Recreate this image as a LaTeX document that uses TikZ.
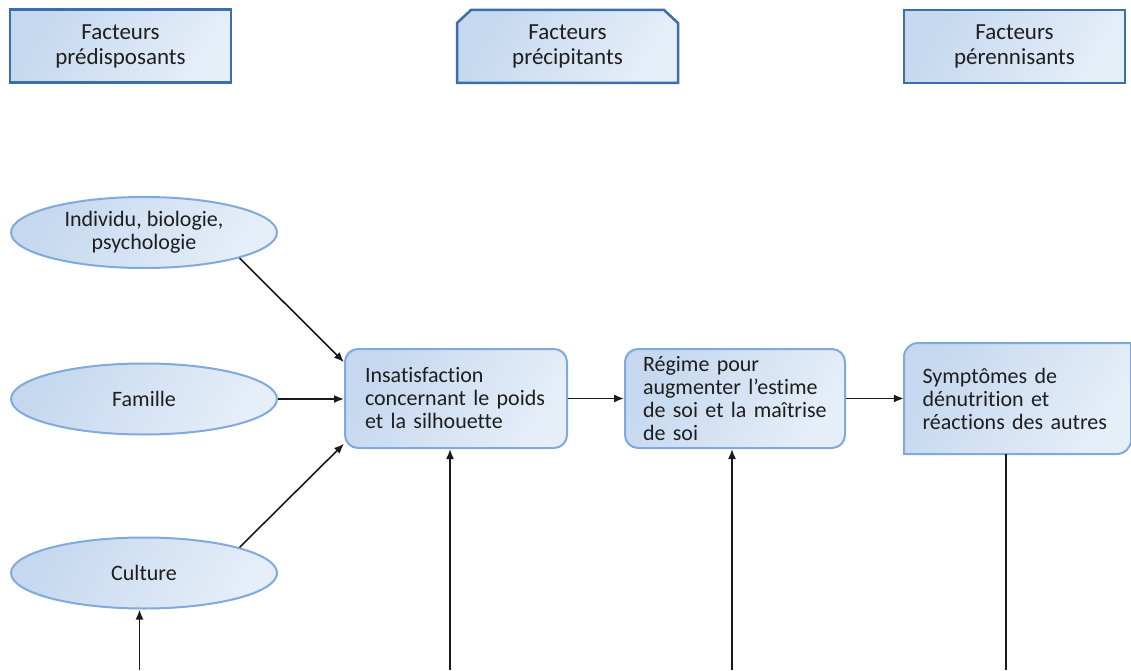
\documentclass[tikz,border=0pt]{standalone}
\usepackage{fontspec}
\setmainfont{Carlito}[Ligatures={NoCommon,NoContextual}]
\usetikzlibrary{arrows.meta,shapes.geometric}
\definecolor{hdrborder}{HTML}{3A6FAE}
\definecolor{softborder}{HTML}{7FAADB}
\definecolor{fillA}{HTML}{C5D8EF}
\definecolor{fillB}{HTML}{E6EEF8}
\definecolor{txt}{HTML}{1E1E1E}
\definecolor{linec}{HTML}{1A1A1A}
\begin{document}
\begin{tikzpicture}[x=1pt,y=1pt,
 grad/.style={left color=fillA,right color=fillB,shading angle=60},
 headtext/.style={rectangle,minimum width=221pt,minimum height=73pt,inner sep=0pt,align=center,text=txt,font=\fontsize{23}{25}\selectfont},
 header/.style={headtext,grad,draw=hdrborder,line width=2.5pt},
 oval/.style={ellipse,grad,draw=softborder,line width=2pt,minimum width=266pt,minimum height=71pt,inner sep=0pt,align=center,text=txt,font=\fontsize{22}{23}\selectfont},
 stagetext/.style={rectangle,minimum width=221pt,minimum height=99pt,inner sep=0pt,align=left,text=txt,font=\fontsize{22}{23}\selectfont},
 stage/.style={stagetext,rounded corners=13pt,grad,draw=softborder,line width=2pt},
 conn/.style={draw=linec,line width=1.6pt},
 arr/.style={conn,-{Latex[length=10pt,width=8pt]}}
]
\useasboundingbox (0,0) rectangle (1131,670);

% header boxes
\node[header] (h1) at (120.5,624) {Facteurs\\prédisposants};
\path[grad,draw=hdrborder,line width=2.5pt] (457,587) -- (457,647) -- (471,660) -- (664,660) -- (678,647) -- (678,587) -- cycle;
\node[headtext] (h2) at (567.5,623.5) {Facteurs\\précipitants};
\node[header] (h3) at (1014.5,623.5) {Facteurs\\pérennisants};

% ellipses
\node[oval] (e1) at (144,437.5) {Individu, biologie,\\psychologie};
\node[oval] (e2) at (144,271) {Famille};
\node[oval] (e3) at (144,97) {Culture};

% stage boxes
\node[stage,minimum width=222pt,text width=182pt] (ins) at (456,271.5) {Insatisfaction\\concernant le poids\\et la silhouette};
\node[stage,minimum width=220pt,text width=184pt] (reg) at (735,271.5) {Régime pour\\augmenter l’estime\\de soi et la maîtrise\\de soi};
\path[grad,draw=softborder,line width=2pt] (904,216) -- (904,313) arc[start angle=180,end angle=90,radius=14] -- (1131,327) -- (1131,230) arc[start angle=0,end angle=-90,radius=14] -- cycle;
\node[stagetext,minimum width=227pt,minimum height=111pt,text width=190pt] (sym) at (1017.5,271.5) {Symptômes de\\dénutrition et\\réactions des autres};

% connectors
\draw[arr] (e1.-15) -- (ins.162);
\draw[arr] (e2.east) -- (e2.east -| ins.west);
\draw[arr] (e3.15) -- (ins.-158);
\draw[arr] (ins.east) -- (reg.west);
\draw[arr] (reg.east) -- (reg.east -| sym.west);

\coordinate (b1) at (139.5,0);
\coordinate (b2) at (450,0);
\coordinate (b3) at (732,0);
\coordinate (b4) at (1006,0);
\draw[arr] (b1) -- (b1 |- e3.south);
\draw[arr] (b2) -- (b2 |- ins.south);
\draw[arr] (b3) -- (b3 |- reg.south);
\draw[conn] (sym.south -| b4) -- (b4);
\end{tikzpicture}
\end{document}
